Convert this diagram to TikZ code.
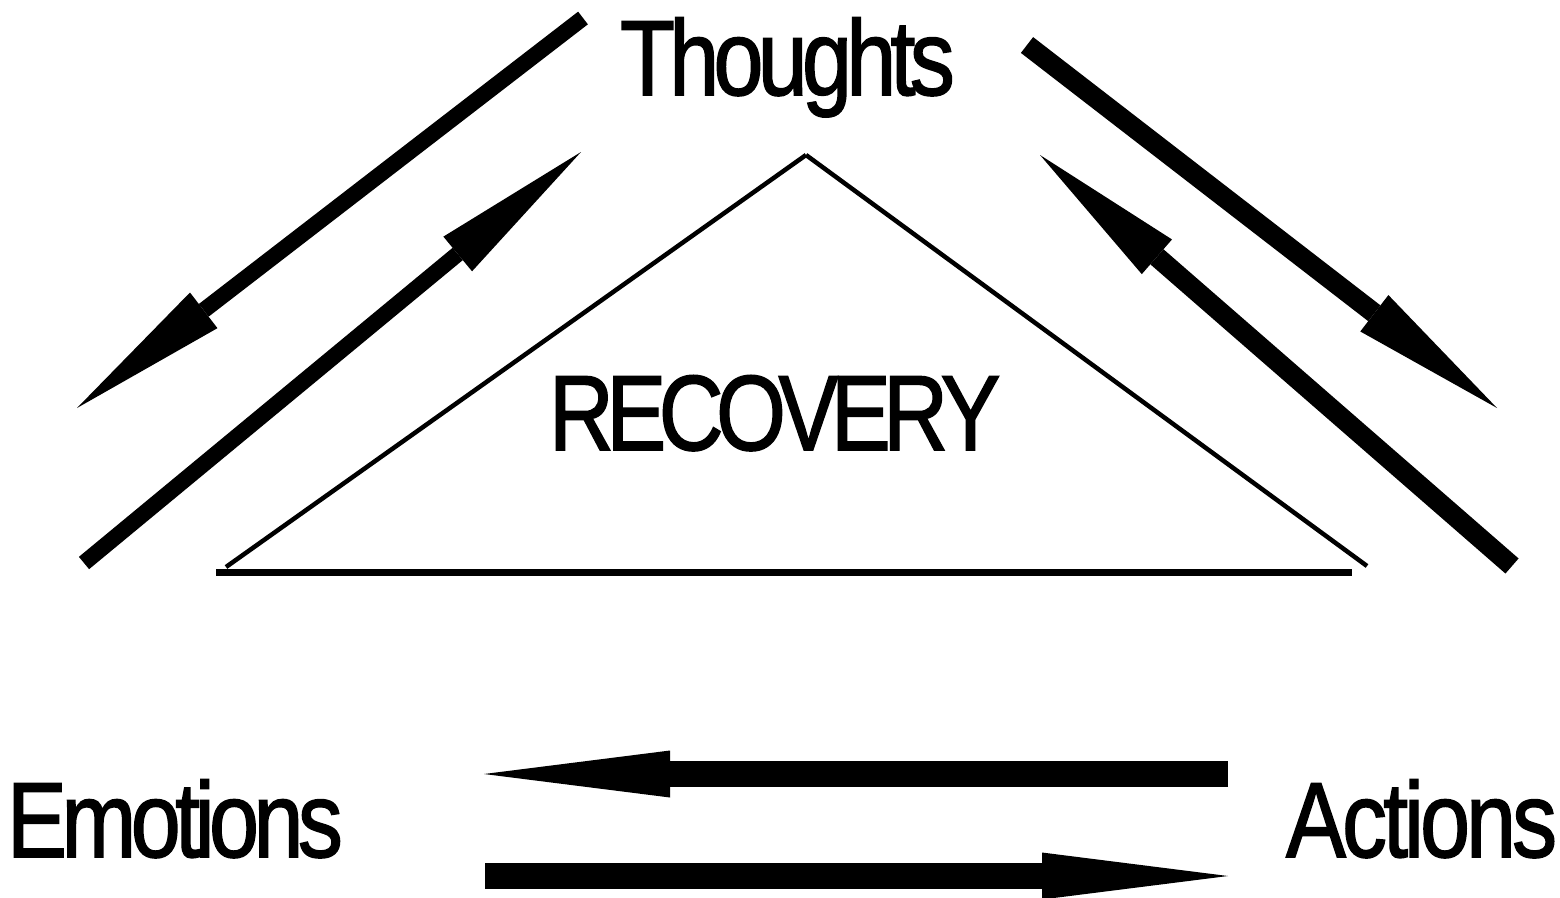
\documentclass[tikz,border=0pt]{standalone}
\usepackage{fontspec}
\setmainfont{Liberation Sans}[FakeBold=1.5]
\usetikzlibrary{arrows.meta}
\newcommand\tk[1]{\kern-#1pt\relax}
\begin{document}
\begin{tikzpicture}[x=1pt,y=-1pt,
  lbl/.style={inner sep=0pt,outer sep=0pt,anchor=base west,font=\fontsize{107}{107}\selectfont},
  diagL/.style={line width=16pt,-{Triangle[length=160pt,width=45pt,line width=0pt]}},
  diagR/.style={line width=20pt,-{Triangle[length=155pt,width=46pt,line width=0pt]}},
  horiz/.style={line width=26pt,-{Triangle[length=186pt,width=47pt,line width=0pt]}},
  sideline/.style={line width=4.5pt},
  baseline/.style={line width=7pt}]
\useasboundingbox (0,0) rectangle (1560,897);
% labels
\node[lbl] (thoughts) at (620,95) {\scalebox{0.84}[1]{T\tk{6.8}h\tk{6.8}o\tk{6.8}u\tk{6.8}g\tk{6.8}h\tk{6.8}t\tk{6.8}s}};
\node[lbl] (recovery) at (549,450) {\scalebox{0.84}[1]{R\tk{9}E\tk{9}C\tk{9}O\tk{9}V\tk{9}E\tk{9}R\tk{9}Y}};
\node[lbl] (emotions) at (7,857) {\scalebox{0.84}[1]{E\tk{6.6}m\tk{6.6}o\tk{6.6}t\tk{6.6}i\tk{6.6}o\tk{6.6}n\tk{6.6}s}};
\node[lbl] (actions) at (1286,857) {\scalebox{0.84}[1]{A\tk{4.7}c\tk{4.7}t\tk{4.7}i\tk{4.7}o\tk{4.7}n\tk{4.7}s}};
% triangle
\coordinate (apex) at (806,155);
\coordinate (lsend) at (226,567);
\coordinate (rsend) at (1367,566);
\coordinate (bl) at (216,572);
\coordinate (br) at (1352,572);
\draw[sideline] (apex) -- (lsend);
\draw[sideline] (apex) -- (rsend);
\draw[baseline] (bl) -- (br);
% diagonal arrows
\coordinate (a1s) at (583,18);
\coordinate (a1e) at (77,408);
\coordinate (a2s) at (84,563);
\coordinate (a2e) at (581,152);
\coordinate (a3s) at (1027,45);
\coordinate (a3e) at (1497,408);
\coordinate (a4s) at (1512,566);
\coordinate (a4e) at (1040,155);
\draw[diagL] (a1s) -- (a1e);
\draw[diagL] (a2s) -- (a2e);
\draw[diagR] (a3s) -- (a3e);
\draw[diagR] (a4s) -- (a4e);
% horizontal arrows
\coordinate (h1s) at (1228,774);
\coordinate (h1e) at (484,774);
\coordinate (h2s) at (485,876);
\coordinate (h2e) at (1228,876);
\draw[horiz] (h1s) -- (h1e);
\draw[horiz] (h2s) -- (h2e);
\end{tikzpicture}
\end{document}
